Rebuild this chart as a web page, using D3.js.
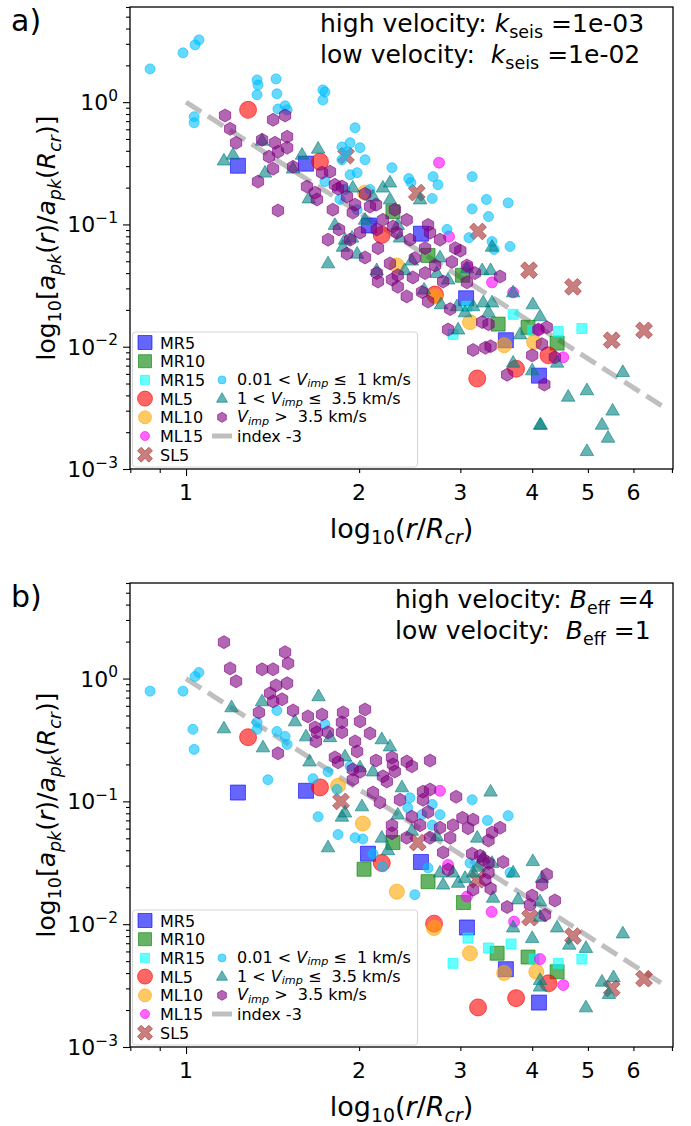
<!DOCTYPE html>
<html>
<head>
<meta charset="utf-8">
<script src="https://cdn.jsdelivr.net/npm/d3@7/dist/d3.min.js"></script>
<style>
  html, body { margin: 0; padding: 0; background: #fff; }
  svg { display: block; font-family: "DejaVu Sans", sans-serif; }
  text { white-space: pre; }
</style>
</head>
<body>
<svg id="chart" width="691" height="1126"></svg>
<script>
// ---- axis ticks ----
const xTickLabels = ["1", "2", "3", "4", "5", "6"];
const xTickValues = [1, 2, 3, 4, 5, 6];
const xMinorTicks = [0.8, 0.9, 2, 3, 4, 5, 6, 7];
const yTickValues = [1e-3, 1e-2, 1e-1, 1];
const yTickExps = ["\u22123", "\u22122", "\u22121", "0"];

// ---- index -3 reference line (r, ratio) ----
const refX = [1, 6.8];
const refY = [1, 0.00318];

// ---- panel a: named runs [r/Rcr, ratio] ----
const mr5A = [[1.231, 0.302], [1.617, 0.314], [2.08, 0.098], [2.562, 0.084], [3.07, 0.0249], [3.6, 0.0113], [4.11, 0.0058]];
const mr10A = [[2.29, 0.127], [2.636, 0.0558], [3.025, 0.0384], [3.49, 0.0153], [3.934, 0.0144], [4.42, 0.0107]];
const mr15A = [[3.08, 0.0214], [3.706, 0.0184], [2.913, 0.0126], [4.44, 0.0133], [4.88, 0.0141], [4.01, 0.0136]];
const ml5A = [[1.282, 0.865], [1.71, 0.326], [2.19, 0.082], [2.71, 0.0267], [3.21, 0.0055], [3.75, 0.0066], [4.27, 0.0085]];
const ml10A = [[2.048, 0.182], [2.326, 0.0462], [2.71, 0.0258], [3.118, 0.0159], [3.575, 0.0103], [4.03, 0.0109]];
const ml15A = [[2.754, 0.32], [2.867, 0.0795], [3.093, 0.0445], [3.406, 0.0336], [3.706, 0.0278], [4.11, 0.0138], [4.53, 0.0082]];
const sl5A = [[1.898, 0.365], [2.52, 0.182], [3.22, 0.0876], [3.95, 0.0422], [4.71, 0.0309], [5.5, 0.0113], [6.26, 0.0136]];

// ---- panel a: impact velocity groups ----
const lowA = [[0.866, 1.87], [0.988, 2.53], [1.037, 2.94], [1.053, 3.23], [1.033, 0.76], [1.033, 0.678],
  [1.329, 1.52], [1.334, 1.38], [1.329, 1.15], [1.434, 1.55], [1.439, 1.17], [1.445, 0.88], [1.487, 0.933],
  [1.499, 0.865], [1.73, 1.26], [1.744, 1.21], [1.73, 1.04], [1.867, 0.43], [1.968, 0.617], [1.929, 0.465],
  [2.007, 0.424], [1.905, 0.393], [1.867, 0.338], [1.984, 0.265], [1.929, 0.255], [2.281, 0.291], [2.44, 0.237],
  [2.461, 0.22], [2.69, 0.246], [2.743, 0.211], [2.68, 0.163], [3.145, 0.246], [3.33, 0.16], [3.358, 0.116],
  [3.633, 0.15], [3.145, 0.134], [2.844, 0.091], [3.105, 0.078], [3.406, 0.0725], [3.434, 0.0625], [3.66, 0.066],
  [1.984, 0.132], [1.744, 0.224], [1.852, 0.16], [2.048, 0.338], [2.089, 0.193], [1.89, 0.193]];
const midA = [[1.164, 0.333], [1.207, 0.371], [1.372, 0.265], [1.356, 0.483], [1.535, 0.286], [1.591, 0.371],
  [1.697, 0.416], [1.635, 0.163], [1.766, 0.048], [1.875, 0.0656], [1.95, 0.2], [2.2, 0.2], [2.263, 0.22],
  [2.263, 0.16], [2.114, 0.169], [1.89, 0.075], [1.944, 0.078], [2.356, 0.078], [1.984, 0.0576], [2.765, 0.0537],
  [2.47, 0.0506], [3.406, 0.0656], [3.08, 0.0437], [3.274, 0.0422], [3.386, 0.0422], [2.146, 0.0422], [2.73, 0.04],
  [2.856, 0.0354], [2.776, 0.0222], [2.96, 0.0214], [3.057, 0.0191], [3.157, 0.0214], [3.288, 0.023], [3.406, 0.023],
  [3.358, 0.0191], [3.706, 0.0278], [4.01, 0.0222], [4.128, 0.0177], [2.973, 0.0138], [3.81, 0.0126], [3.706, 0.0074],
  [4.0, 0.0064], [4.42, 0.0074], [5.75, 0.0062], [4.98, 0.0044], [4.62, 0.0039], [5.52, 0.003], [5.29, 0.0023],
  [5.42, 0.0018], [4.98, 0.0014], [4.128, 0.0023], [4.14, 0.0023], [2.048, 0.109], [2.335, 0.099], [2.553, 0.16],
  [1.815, 0.099], [2.4, 0.0422], [2.594, 0.0293]];
const highA = [[1.169, 0.778], [1.193, 0.605], [1.222, 0.465], [1.356, 0.492], [1.417, 0.717], [1.487, 0.778],
  [1.499, 0.521], [1.499, 0.424], [1.428, 0.465], [1.445, 0.393], [1.394, 0.358], [1.417, 0.286], [1.334, 0.224],
  [1.445, 0.13], [1.623, 0.204], [1.676, 0.182], [1.689, 0.16], [1.766, 0.075], [1.8, 0.132], [1.724, 0.265],
  [1.78, 0.27], [1.838, 0.196], [1.845, 0.091], [1.815, 0.211], [1.535, 0.296], [1.867, 0.204], [1.905, 0.169],
  [1.95, 0.125], [2.089, 0.14], [2.146, 0.091], [2.2, 0.109], [2.29, 0.096], [2.326, 0.0856], [2.007, 0.0856],
  [1.929, 0.075], [2.42, 0.109], [2.636, 0.099], [2.657, 0.0856], [2.605, 0.064], [2.94, 0.064], [2.9, 0.0494],
  [3.08, 0.0462], [2.263, 0.048], [2.146, 0.04], [2.335, 0.0384], [2.605, 0.04], [2.048, 0.0537], [2.157, 0.064],
  [1.905, 0.0576], [2.42, 0.0258], [2.573, 0.028], [2.636, 0.0234], [2.8, 0.0341], [3.08, 0.0336], [3.18, 0.04],
  [3.517, 0.0375], [2.281, 0.0354], [2.157, 0.0341], [2.335, 0.0309], [2.48, 0.0369], [2.88, 0.0203], [2.856, 0.0138],
  [3.274, 0.0159], [3.358, 0.0153], [3.157, 0.0094], [3.316, 0.0098], [3.386, 0.0101], [3.618, 0.0059], [4.0, 0.0085],
  [4.16, 0.0105], [4.24, 0.0144], [4.2, 0.0049], [4.38, 0.0082], [4.1, 0.0138], [2.048, 0.178], [2.14, 0.145],
  [1.968, 0.145], [2.307, 0.132], [2.452, 0.075], [2.765, 0.075], [2.5, 0.053], [2.71, 0.0462], [3.0, 0.061]];

// ---- panel b: named runs ----
const mr5B = [[1.231, 0.118], [1.617, 0.122], [2.072, 0.0375], [2.562, 0.0321], [3.08, 0.0094], [3.6, 0.0043], [4.11, 0.0023]];
const mr10B = [[2.04, 0.028], [2.29, 0.0462], [2.636, 0.0222], [3.037, 0.015], [3.476, 0.0058], [3.934, 0.0054], [4.42, 0.0041]];
const mr15B = [[2.913, 0.0048], [3.093, 0.0077], [3.358, 0.0064], [3.676, 0.0069], [4.03, 0.0052], [4.44, 0.0048], [4.88, 0.0052]];
const ml5B = [[1.282, 0.333], [1.71, 0.13], [2.19, 0.0315], [2.7, 0.0101], [3.22, 0.0021], [3.75, 0.0025], [4.27, 0.0033]];
const ml10B = [[1.838, 0.134], [2.03, 0.066], [2.326, 0.0184], [2.7, 0.0093], [3.118, 0.0058], [3.575, 0.004], [4.066, 0.0041]];
const ml15B = [[2.765, 0.122], [2.856, 0.0304], [3.4, 0.0126], [3.72, 0.0105], [4.128, 0.0052], [4.53, 0.0032], [3.08, 0.0168]];
const sl5B = [[1.86, 0.1], [2.53, 0.0462], [3.21, 0.023], [3.965, 0.0113], [4.71, 0.008], [5.5, 0.003], [6.26, 0.0036]];

// ---- panel b: impact velocity groups ----
const lowB = [[0.866, 0.79], [0.988, 0.79], [1.037, 1.04], [1.053, 1.12], [1.028, 0.386], [1.033, 0.265],
  [1.388, 0.15], [1.329, 0.44], [1.329, 0.386], [1.439, 0.55], [1.439, 0.371], [1.487, 0.338], [1.499, 0.291],
  [1.663, 0.153], [1.697, 0.075], [1.766, 0.174], [1.838, 0.0537], [1.744, 0.424], [1.929, 0.193], [2.452, 0.107],
  [2.43, 0.089], [2.68, 0.0945], [2.573, 0.078], [2.765, 0.078], [3.145, 0.103], [3.633, 0.0765], [3.344, 0.07],
  [2.68, 0.064], [1.968, 0.0506], [2.03, 0.0494], [2.5, 0.0174], [2.2, 0.0293], [2.114, 0.0375], [2.636, 0.0287],
  [3.118, 0.0315], [3.66, 0.0263], [1.83, 0.125]];
const midB = [[1.2, 0.583], [1.164, 0.393], [1.356, 0.652], [1.361, 0.275], [1.547, 0.448], [1.617, 0.338],
  [1.64, 0.211], [1.7, 0.717], [1.78, 0.333], [1.766, 0.0422], [1.867, 0.075], [2.19, 0.32], [2.263, 0.28],
  [2.007, 0.189], [2.114, 0.175], [1.89, 0.232], [2.374, 0.13], [3.386, 0.12], [2.023, 0.091], [1.89, 0.081],
  [2.19, 0.0506], [2.335, 0.078], [2.47, 0.0576], [3.21, 0.0506], [2.73, 0.052], [4.01, 0.0326], [4.16, 0.0238],
  [3.706, 0.0263], [3.42, 0.0164], [3.78, 0.0159], [4.128, 0.0153], [2.765, 0.0263], [2.8, 0.021], [2.913, 0.0263],
  [2.973, 0.0217], [3.057, 0.0238], [3.157, 0.0263], [3.22, 0.0293], [3.288, 0.0348], [3.406, 0.0315], [3.706, 0.0094],
  [4.0, 0.0077], [4.128, 0.0115], [4.42, 0.0094], [4.64, 0.0068], [4.96, 0.0064], [5.75, 0.0084], [5.29, 0.0034],
  [5.54, 0.0037], [5.44, 0.0027], [4.96, 0.0021], [4.128, 0.0035], [4.128, 0.0031], [2.245, 0.04]];
const highB = [[1.164, 1.98], [1.193, 1.21], [1.222, 0.95], [1.356, 1.19], [1.417, 1.19], [1.487, 1.64],
  [1.505, 1.33], [1.434, 0.88], [1.499, 0.915], [1.4, 0.76], [1.417, 0.652], [1.469, 0.678], [1.339, 0.53],
  [1.445, 0.246], [1.535, 0.55], [1.629, 0.492], [1.676, 0.4], [1.689, 0.365], [1.682, 0.308], [1.724, 0.51],
  [1.766, 0.365], [1.815, 0.228], [1.838, 0.208], [1.875, 0.53], [1.867, 0.44], [1.867, 0.365], [2.089, 0.358],
  [1.968, 0.308], [1.984, 0.255], [2.14, 0.215], [2.281, 0.228], [2.29, 0.2], [2.307, 0.175], [2.42, 0.211],
  [2.47, 0.193], [2.657, 0.215], [1.95, 0.182], [2.007, 0.174], [1.95, 0.15], [2.2, 0.16], [2.235, 0.145],
  [2.114, 0.118], [2.583, 0.12], [2.657, 0.125], [2.583, 0.103], [2.95, 0.109], [2.174, 0.098], [2.356, 0.103],
  [2.636, 0.082], [2.47, 0.075], [2.281, 0.064], [2.553, 0.064], [2.765, 0.061], [2.913, 0.064], [3.093, 0.0605],
  [3.157, 0.071], [3.517, 0.061], [3.406, 0.0558], [3.358, 0.048], [2.88, 0.0506], [3.025, 0.0735], [2.657, 0.0506],
  [2.42, 0.0506], [2.281, 0.055], [2.8, 0.0384], [2.856, 0.0278], [3.145, 0.0375], [3.247, 0.036], [3.358, 0.0315],
  [3.316, 0.023], [3.386, 0.0195], [3.157, 0.0191], [3.56, 0.0321], [4.24, 0.0254], [4.16, 0.021], [4.38, 0.0156],
  [4.0, 0.0171], [3.965, 0.0144], [3.618, 0.0138], [4.21, 0.0119], [3.288, 0.0336], [3.358, 0.0263], [2.007, 0.448],
  [2.048, 0.56]];

// ---- legend labels ----
const namedLabels = ["MR5", "MR10", "MR15", "ML5", "ML10", "ML15", "SL5"];

const svg = d3.select("#chart");

// marker shapes
function hexPath(r) {
  const pts = d3.range(6).map(k => {
    const a = (-90 + 60 * k) * Math.PI / 180;
    return [r * Math.cos(a), r * Math.sin(a)];
  });
  return "M" + pts.map(p => p.join(",")).join("L") + "Z";
}
function xPath(s) {
  const a = s * 0.32;
  const pts = [[a, s], [a, a], [s, a], [s, -a], [a, -a], [a, -s], [-a, -s], [-a, -a], [-s, -a], [-s, a], [-a, a], [-a, s]];
  const c = Math.SQRT1_2;
  return "M" + pts.map(([x, y]) => [(x - y) * c, (x + y) * c].join(",")).join("L") + "Z";
}
function squarePath(s) { const h = s / 2; return `M${-h},${-h}H${h}V${h}H${-h}Z`; }
function circlePath(d) { return d3.symbol(d3.symbolCircle, Math.PI * d * d / 4)(); }
function triPath(w) {
  const h = w * 0.866;
  return `M0,${-h * 0.62}L${w / 2},${h * 0.38}L${-w / 2},${h * 0.38}Z`;
}

// per series style: shape path, colour
const namedStyles = [
  { path: squarePath(15), legend: squarePath(14), color: "#0000ff" },
  { path: squarePath(14), legend: squarePath(13), color: "#008000" },
  { path: squarePath(10), legend: squarePath(9), color: "#00ffff" },
  { path: circlePath(17), legend: circlePath(15), color: "#ff0000" },
  { path: circlePath(15), legend: circlePath(13), color: "#ffa500" },
  { path: circlePath(11), legend: circlePath(9), color: "#ff00ff" },
  { path: xPath(9), legend: xPath(8), color: "#a52a2a" }
];
const groupStyles = [
  { path: circlePath(10), legend: circlePath(8), color: "#00bfff" },
  { path: triPath(13.5), legend: triPath(11), color: "#008080" },
  { path: hexPath(6.5), legend: hexPath(5), color: "#800080" }
];

// rich text helper: segments [text, flags] with i=italic, b=subscript, p=superscript
function rich(sel, segs, size, drop = 0.22) {
  let shift = 0;
  segs.forEach(([t, f = ""]) => {
    const small = f.includes("b") || f.includes("p");
    const target = f.includes("b") ? size * drop : f.includes("p") ? -size * 0.42 : 0;
    sel.append("tspan")
      .attr("dy", target - shift)
      .style("font-size", (small ? size * 0.7 : size) + "px")
      .style("font-style", f.includes("i") ? "italic" : "normal")
      .text(t);
    shift = target;
  });
}

const left = 130, right = 673;

function drawPanel(cfg) {
  const x = d3.scaleLog().domain([0.799, 7.03]).range([left, right]);
  const y = d3.scaleLog().domain([1e-3, 6.0]).range([cfg.bottom, cfg.top]);
  const g = svg.append("g");

  // clip
  const clipId = "clip" + cfg.tag;
  svg.append("clipPath").attr("id", clipId).append("rect")
    .attr("x", left).attr("y", cfg.top).attr("width", right - left).attr("height", cfg.bottom - cfg.top);
  const plot = g.append("g").attr("clip-path", `url(#${clipId})`);

  // reference line
  plot.append("path")
    .attr("d", d3.line().x(d => x(d[0])).y(d => y(d[1]))(d3.zip(refX, refY)))
    .attr("fill", "none").attr("stroke", "#808080").attr("stroke-opacity", 0.5)
    .attr("stroke-width", 5).attr("stroke-dasharray", "18,8");

  // named runs first, then velocity groups
  cfg.named.forEach((data, i) => {
    const st = namedStyles[i];
    plot.append("g").selectAll("path").data(data).join("path")
      .attr("d", st.path)
      .attr("transform", d => `translate(${x(d[0])},${y(d[1])})`)
      .attr("fill", st.color).attr("fill-opacity", 0.6)
      .attr("stroke", st.color).attr("stroke-opacity", 0.6).attr("stroke-width", 1);
  });
  cfg.groups.forEach((data, i) => {
    const st = groupStyles[i];
    plot.append("g").selectAll("path").data(data).join("path")
      .attr("d", st.path)
      .attr("transform", d => `translate(${x(d[0])},${y(d[1])})`)
      .attr("fill", st.color).attr("fill-opacity", 0.6)
      .attr("stroke", st.color).attr("stroke-opacity", 0.6).attr("stroke-width", 1);
  });

  // axes
  const yMinor = [];
  [1e-3, 1e-2, 1e-1, 1].forEach(dec => {
    for (let k = 2; k <= 9; k++) if (dec * k <= 6.0) yMinor.push(dec * k);
  });
  const axisY = d3.axisLeft(y).tickValues(yTickValues).tickFormat("").tickSize(7);
  const axisYm = d3.axisLeft(y).tickValues(yMinor).tickFormat("").tickSize(4);
  g.append("g").attr("transform", `translate(${left},0)`).call(axisY);
  g.append("g").attr("transform", `translate(${left},0)`).call(axisYm);
  const axisX = d3.axisBottom(x).tickValues([1]).tickFormat("").tickSize(7);
  const axisXm = d3.axisBottom(x).tickValues(xMinorTicks).tickFormat("").tickSize(4);
  g.append("g").attr("transform", `translate(0,${cfg.bottom})`).call(axisX);
  g.append("g").attr("transform", `translate(0,${cfg.bottom})`).call(axisXm);
  g.selectAll(".domain").remove();
  g.selectAll(".tick line").attr("stroke", "#000").attr("stroke-width", 1.1);

  // tick labels
  xTickValues.forEach((v, i) => {
    g.append("text").attr("x", x(v)).attr("y", cfg.bottom + 31)
      .attr("text-anchor", "middle").style("font-size", "22px").text(xTickLabels[i]);
  });
  yTickValues.forEach((v, i) => {
    const t = g.append("text").attr("x", 118).attr("y", y(v) + 8)
      .attr("text-anchor", "end").style("font-size", "22px");
    rich(t, [["10"], [yTickExps[i], "p"]], 22);
  });

  // frame
  g.append("rect").attr("x", left).attr("y", cfg.top).attr("width", right - left)
    .attr("height", cfg.bottom - cfg.top).attr("fill", "none").attr("stroke", "#000").attr("stroke-width", 1.3);

  // axis labels
  const yl = g.append("text")
    .attr("transform", `translate(55,${(cfg.top + cfg.bottom) / 2}) rotate(-90)`)
    .attr("text-anchor", "middle").style("font-size", "25px");
  rich(yl, [["log"], ["10", "b"], ["["], ["a", "i"], ["pk", "ib"], ["("], ["r", "i"], [")/"], ["a", "i"], ["pk", "ib"],
    ["("], ["R", "i"], ["cr", "ib"], [")]"]], 25);
  const xl = g.append("text").attr("x", (left + right) / 2).attr("y", cfg.bottom + 69)
    .attr("text-anchor", "middle").style("font-size", "27px");
  rich(xl, [["log"], ["10", "b"], ["("], ["r", "i"], ["/"], ["R", "i"], ["cr", "ib"], [")"]], 27);

  // panel letter
  g.append("text").attr("x", 11).attr("y", cfg.top + 24).style("font-size", "30px").text(cfg.tag + ")");

  // annotation
  cfg.notes.forEach((segs, i) => {
    const t = g.append("text").attr("x", cfg.noteX).attr("y", cfg.top + 25 + i * 31).style("font-size", "25px");
    rich(t, segs, 25);
  });

  // legend
  const lgTop = cfg.bottom - 137, lgH = 135;
  const lg = g.append("g");
  lg.append("rect").attr("x", 132.5).attr("y", lgTop).attr("width", 285).attr("height", lgH)
    .attr("rx", 3).attr("fill", "#fff").attr("fill-opacity", 0.8).attr("stroke", "#d6d6d6");
  const rowY = k => lgTop + 10.5 + k * 18.7;
  namedLabels.forEach((lab, k) => {
    const st = namedStyles[k];
    lg.append("path").attr("d", st.legend).attr("transform", `translate(145,${rowY(k)})`)
      .attr("fill", st.color).attr("fill-opacity", 0.6).attr("stroke", st.color).attr("stroke-opacity", 0.6);
    lg.append("text").attr("x", 160).attr("y", rowY(k) + 6).style("font-size", "16px").text(lab);
  });
  const groupLabels = [
    [["0.01 < "], ["V", "i"], ["imp", "ib"], [" \u2264  1 km/s"]],
    [["1 < "], ["V", "i"], ["imp", "ib"], [" \u2264  3.5 km/s"]],
    [["V", "i"], ["imp", "ib"], [" >  3.5 km/s"]]
  ];
  groupLabels.forEach((segs, k) => {
    const st = groupStyles[k];
    lg.append("path").attr("d", st.legend).attr("transform", `translate(222,${rowY(k + 2)})`)
      .attr("fill", st.color).attr("fill-opacity", 0.6).attr("stroke", st.color).attr("stroke-opacity", 0.6);
    const t = lg.append("text").attr("x", 237).attr("y", rowY(k + 2) + 5).style("font-size", "16px");
    rich(t, segs, 16, 0.16);
  });
  lg.append("line").attr("x1", 212).attr("x2", 232).attr("y1", rowY(5)).attr("y2", rowY(5))
    .attr("stroke", "#808080").attr("stroke-opacity", 0.5).attr("stroke-width", 5);
  lg.append("text").attr("x", 237).attr("y", rowY(5) + 6).style("font-size", "16px").text("index -3");
}

drawPanel({
  tag: "a", top: 7, bottom: 469, noteX: 320,
  named: [mr5A, mr10A, mr15A, ml5A, ml10A, ml15A, sl5A],
  groups: [lowA, midA, highA],
  notes: [
    [["high velocity: "], ["k", "i"], ["seis", "b"], [" =1e-03"]],
    [["low velocity:  "], ["k", "i"], ["seis", "b"], [" =1e-02"]]
  ]
});
drawPanel({
  tag: "b", top: 583, bottom: 1047, noteX: 395,
  named: [mr5B, mr10B, mr15B, ml5B, ml10B, ml15B, sl5B],
  groups: [lowB, midB, highB],
  notes: [
    [["high velocity: "], ["B", "i"], ["eff", "b"], [" =4"]],
    [["low velocity:  "], ["B", "i"], ["eff", "b"], [" =1"]]
  ]
});
</script>
</body>
</html>
